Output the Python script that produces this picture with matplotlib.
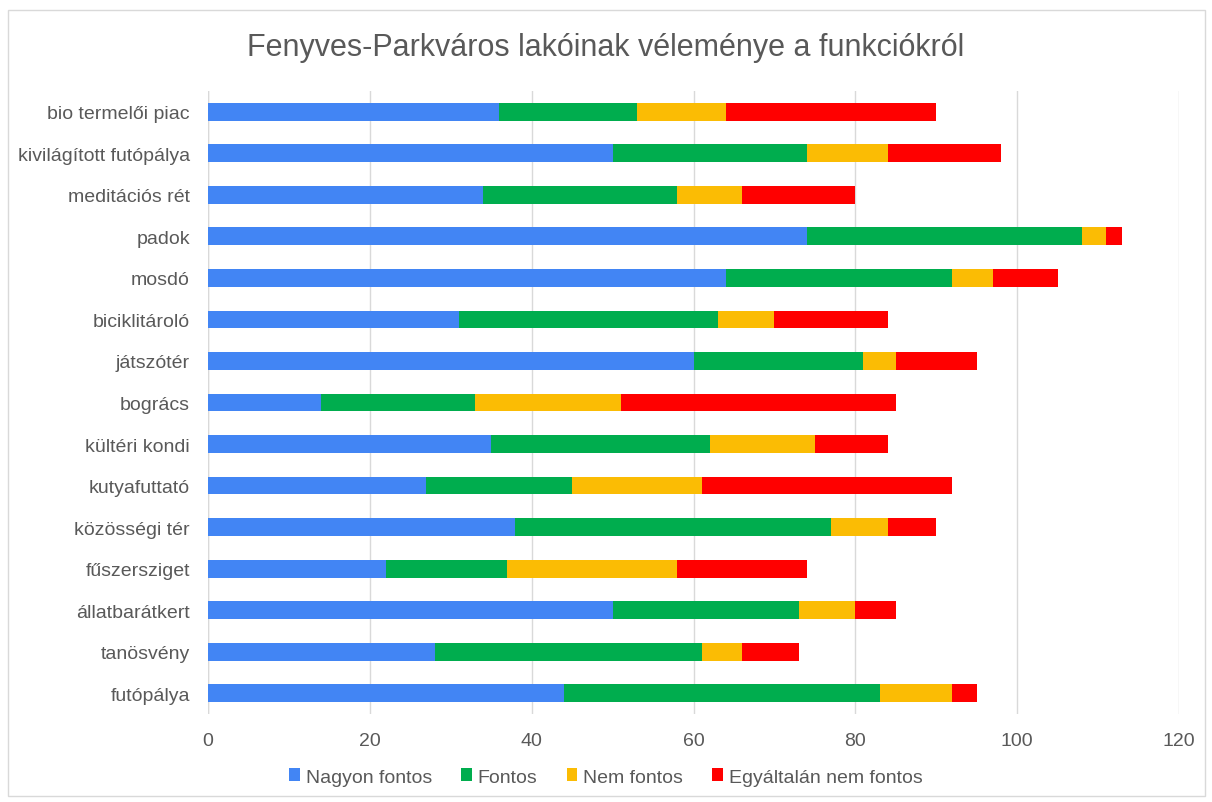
import matplotlib.pyplot as plt
from matplotlib.patches import Rectangle
import numpy as np

plt.rcParams['font.family'] = ['Liberation Sans', 'DejaVu Sans']

categories = ["bio termelői piac", "kivilágított futópálya", "meditációs rét", "padok",
              "mosdó", "biciklitároló", "játszótér", "bogrács", "kültéri kondi",
              "kutyafuttató", "közösségi tér", "fűszersziget", "állatbarátkert",
              "tanösvény", "futópálya"]
nagyon_fontos = [36, 50, 34, 74, 64, 31, 60, 14, 35, 27, 38, 22, 50, 28, 44]
fontos = [17, 24, 24, 34, 28, 32, 21, 19, 27, 18, 39, 15, 23, 33, 39]
nem_fontos = [11, 10, 8, 3, 5, 7, 4, 18, 13, 16, 7, 21, 7, 5, 9]
egyaltalan_nem = [26, 14, 14, 2, 8, 14, 10, 34, 9, 31, 6, 16, 5, 7, 3]
series_names = ["Nagyon fontos", "Fontos", "Nem fontos", "Egyáltalán nem fontos"]
x_ticks = [0, 20, 40, 60, 80, 100, 120]

colors = ["#4285F4", "#00AD4E", "#FBBC04", "#FF0000"]
text_col = "#595959"

fig = plt.figure(figsize=(12.12, 8.03), dpi=100)
ax = fig.add_axes([208/1212, 1-715/803, (1179-208)/1212, (715-92)/803])

# outer chart border
fig.patches.append(Rectangle((8/1212, 1-797/803), (1205-8)/1212, (797-11)/803,
                             transform=fig.transFigure, fill=False,
                             edgecolor="#d9d9d9", linewidth=1))

y = np.arange(len(categories))
left = np.zeros(len(categories))
for vals, name, c in zip([nagyon_fontos, fontos, nem_fontos, egyaltalan_nem], series_names, colors):
    ax.barh(y, vals, left=left, height=0.43, color=c, label=name, zorder=3)
    left += np.array(vals)

ax.set_ylim(len(categories) - 0.5, -0.5)
ax.set_xlim(0, 120)
ax.set_yticks(y)
ax.set_yticklabels(categories, fontsize=14, color=text_col)
ax.set_xticks(x_ticks)
ax.set_xticklabels([str(t) for t in x_ticks], fontsize=14, color=text_col)
ax.tick_params(length=0)
ax.tick_params(axis='y', pad=13)
ax.tick_params(axis='x', pad=13)
ax.grid(axis='x', color="#d9d9d9", linewidth=1, zorder=0)
for s in ax.spines.values():
    s.set_visible(False)
ax.axvline(0, color="#d9d9d9", linewidth=1, zorder=1)

fig.text(0.5, 1-48/803, "Fenyves-Parkváros lakóinak véleménye a funkciókról",
         ha='center', va='center', fontsize=22, color=text_col)

leg = ax.legend(loc='center', bbox_to_anchor=(0.5, 1-778/803), bbox_transform=fig.transFigure,
                ncol=4, frameon=False, fontsize=14, handlelength=0.55, handleheight=0.6,
                handletextpad=0.3, columnspacing=1.5)
for t in leg.get_texts():
    t.set_color(text_col)

plt.savefig("out.png", dpi=100)
